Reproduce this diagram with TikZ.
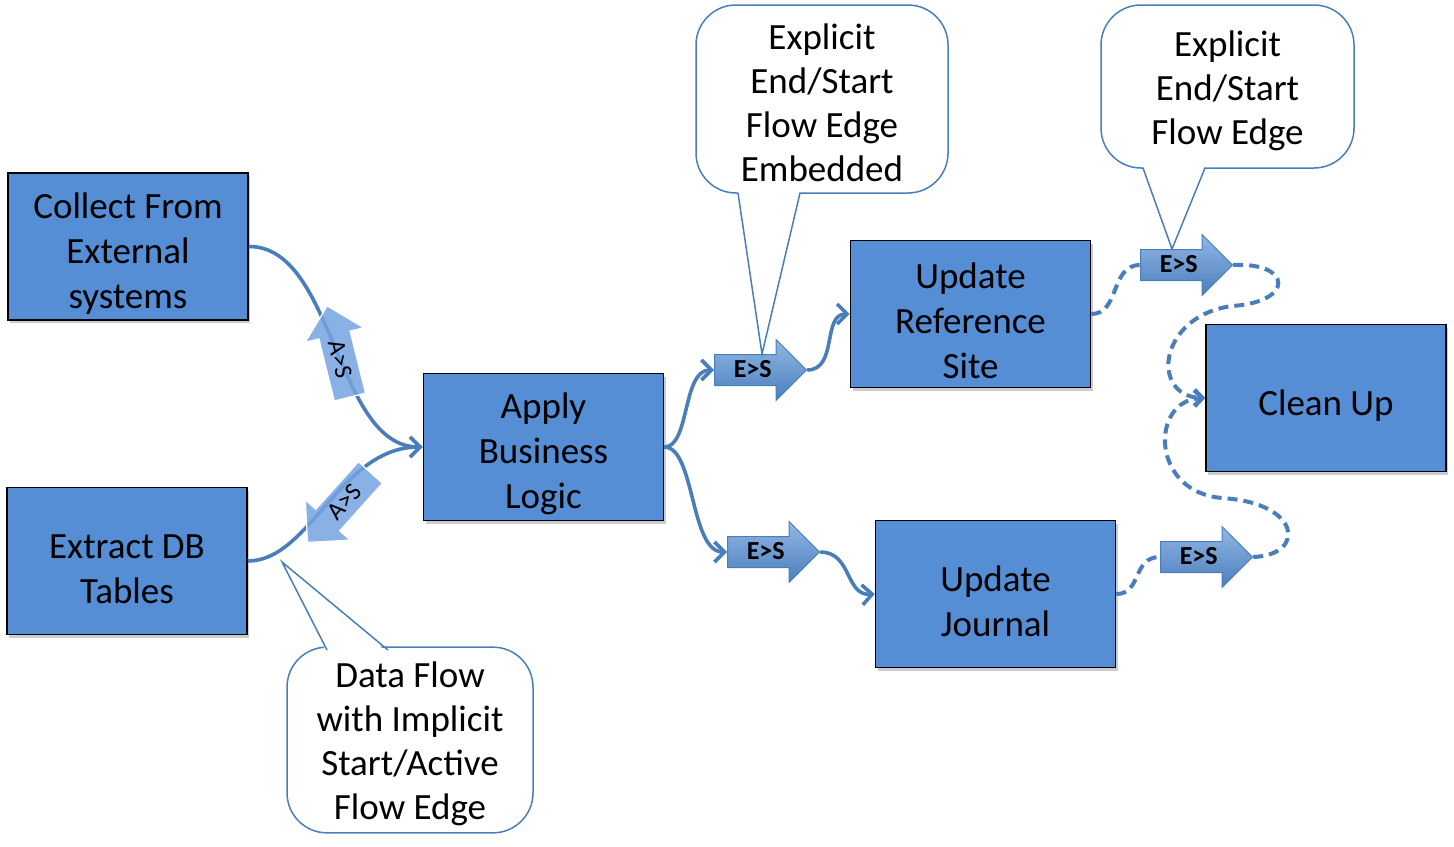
\documentclass[tikz,border=0pt]{standalone}
\usepackage{fontspec}
\setmainfont{Carlito}
\usetikzlibrary{shapes.arrows,shadows,arrows.meta}

\definecolor{boxblue}{RGB}{85,142,213}
\definecolor{lineblue}{RGB}{74,126,187}
\definecolor{lightblue}{RGB}{146,183,230}
\definecolor{tagblue}{RGB}{118,163,224}

\newcommand{\boxstrut}{\rule{0pt}{20pt}}
\newcommand{\notestrut}{\rule{0pt}{17pt}}

\begin{document}
\begin{tikzpicture}[x=0.5pt,y=-0.5pt]
    \tikzstyle{task}=[rectangle,draw=black,line width=0.8pt,fill=boxblue,minimum width=120pt,minimum height=73.5pt,align=center,inner sep=2pt,font=\fontsize{18.5}{22.5}\selectfont,drop shadow={shadow xshift=1pt,shadow yshift=-1.5pt,opacity=0.4}]
    \tikzstyle{edgetag}=[single arrow,draw=lineblue,line width=0.5pt,top color=lightblue,bottom color=lineblue,minimum height=46pt,single arrow head extend=7.5pt,text height=7.5pt,text depth=0pt,inner ysep=3.75pt,inner xsep=2pt,font=\fontsize{13}{14}\selectfont\bfseries]
    \tikzstyle{activetag}=[single arrow,draw=white,line width=0.6pt,fill=tagblue,fill opacity=0.85,text opacity=1,minimum height=47pt,single arrow head extend=7pt,text height=8.5pt,text depth=0pt,inner ysep=3.5pt,inner xsep=2pt,shape border rotate=180,font=\fontsize{12.5}{13}\selectfont]
    \tikzstyle{flow}=[draw=lineblue,line width=1.8pt,-{Straight Barb[length=5pt,width=10pt]}]
    \tikzstyle{endflow}=[draw=lineblue,line width=2pt,dash pattern=on 5pt off 3pt]
    \tikzstyle{callout}=[rectangle,rounded corners=20pt,draw=lineblue,line width=0.75pt,fill=white,align=center,font=\fontsize{18.5}{22}\selectfont]
    \tikzstyle{calloutline}=[draw=lineblue,line width=0.75pt]

    \useasboundingbox (0,0) rectangle (1454,846);

    % tasks
    \node[task] (collect) at (128,246.5) {\boxstrut Collect From\\External\\systems};
    \node[task] (extract) at (127,561) {\boxstrut Extract DB\\Tables};
    \node[task] (apply) at (543.5,447) {\boxstrut Apply\\Business\\Logic};
    \node[task] (refsite) at (970.5,314) {\boxstrut Update\\Reference\\Site};
    \node[task] (journal) at (995.5,594) {\boxstrut Update\\Journal};
    \node[task] (cleanup) at (1326,398) {\boxstrut Clean Up};

    % explicit end/start tags
    \foreach \name/\x/\y in {es1/714/370, es2/727/552, es3/1140/265, es4/1160/557}
        \node[edgetag,anchor=tail] (\name) at (\x,\y) {E>S};

    % data flows
    \draw[flow] (collect.east) .. controls (335,246) and (335,447) .. (apply.west);
    \draw[flow] (extract.east) .. controls (310,561) and (340,447) .. (apply.west);
    \draw[flow] (apply.east) .. controls (690,447) and (682,370) .. (es1.tail);
    \draw[flow] (apply.east) .. controls (695,447) and (690,552) .. (es2.tail);
    \draw[flow] (es1.tip) .. controls (838,370) and (822,314) .. (refsite.west);
    \draw[flow] (es2.tip) .. controls (852,552) and (845,596) .. (journal.west);

    % implicit start/active tags
    \node[activetag,anchor=tip,rotate=-76] (as1) at (327,305) {A>S};
    \node[activetag,anchor=tip,rotate=48] (as2) at (307,543) {A>S};

    % end/start flows into clean up
    \coordinate (loop1) at (1232,306);
    \coordinate (loop2) at (1222,498);
    \draw[endflow] (refsite.east) .. controls (1120,314) and (1110,265) .. (es3.tail);
    \draw[endflow] (journal.east) .. controls (1142,594) and (1132,557) .. (es4.tail);
    \draw[endflow,-{Straight Barb[length=4pt,width=8pt]}] (es3.tip) .. controls (1292,262) and (1295,302) .. (loop1) .. controls (1158,316) and (1150,396) .. (cleanup.west);
    \draw[endflow,-{Straight Barb[length=4pt,width=8pt]}] (es4.tip) .. controls (1306,555) and (1302,503) .. (loop2) .. controls (1150,492) and (1150,400) .. (cleanup.west);

    % callouts
    \node[callout,minimum width=126pt,minimum height=94pt] (note1) at (822,99) {\notestrut Explicit\\End/Start\\Flow Edge\\Embedded};
    \node[callout,minimum width=126.5pt,minimum height=81.5pt] (note2) at (1227.5,86.5) {\notestrut Explicit\\End/Start\\Flow Edge};
    \node[callout,minimum width=123pt,minimum height=90pt] (note3) at (410,740) {\notestrut Data Flow\\with Implicit\\Start/Active\\Flow Edge};

    \coordinate (ptr1) at (762,354);
    \coordinate (ptr2) at (1172,249);
    \coordinate (ptr3) at (282,562);
    \fill[white] (738,190) -- (ptr1) -- (800,190) -- cycle;
    \draw[calloutline] (738,193) -- (ptr1) -- (800,193);
    \fill[white] (1143,165) -- (ptr2) -- (1205,165) -- cycle;
    \draw[calloutline] (1143,168) -- (ptr2) -- (1205,168);
    \fill[white] (327,653) -- (ptr3) -- (388,653) -- cycle;
    \draw[calloutline] (327,650) -- (ptr3) -- (388,650);
\end{tikzpicture}
\end{document}
